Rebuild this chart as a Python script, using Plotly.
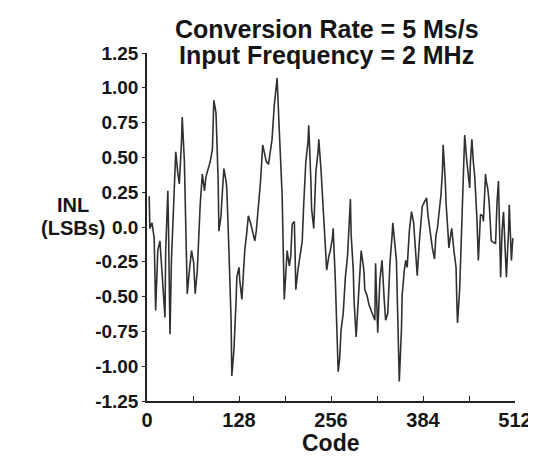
import plotly.graph_objects as go

# INL (LSBs) vs output code
codes = [3, 4, 7, 10, 12, 15, 18, 21, 23, 25, 26, 29, 30, 32, 34, 37, 40, 43, 45, 48,
         49, 52, 54, 56, 59, 62, 65, 67, 70, 71, 74, 77, 80, 82, 85, 88, 91, 92, 93, 96,
         99, 100, 103, 104, 107, 110, 111, 114, 117, 118, 121, 124, 125, 128, 129, 132, 133, 136, 139, 141,
         144, 147, 150, 152, 155, 158, 161, 163, 166, 169, 172, 174, 177, 180, 181, 184, 187, 188, 191, 194,
         195, 198, 200, 202, 205, 206, 207, 210, 213, 216, 218, 221, 224, 225, 228, 229, 232, 235, 238, 239,
         242, 244, 247, 249, 250, 253, 255, 258, 259, 262, 264, 266, 268, 270, 273, 276, 279, 280, 283, 284,
         287, 288, 291, 294, 297, 298, 301, 302, 303, 306, 309, 312, 314, 317, 318, 321, 324, 327, 330, 332,
         335, 338, 341, 342, 345, 347, 349, 351, 354, 355, 358, 360, 362, 365, 368, 371, 372, 375, 376, 379,
         382, 383, 386, 389, 391, 393, 395, 397, 400, 402, 404, 406, 409, 411, 412, 415, 416, 419, 420, 423,
         424, 427, 430, 431, 432, 435, 437, 439, 441, 442, 445, 448, 449, 450, 452, 454, 456, 459, 460, 461,
         464, 467, 468, 471, 472, 474, 476, 478, 479, 482, 485, 487, 489, 492, 494, 496, 498, 500, 503, 504,
         507, 508, 509]

inl = [0.22, -0.01, 0.03, -0.08, -0.60, -0.17, -0.10, -0.31, -0.52, -0.65, -0.17, 0.26, -0.03, -0.77, -0.24, 0.15, 0.54, 0.38, 0.31, 0.61,
       0.79, 0.47, -0.03, -0.48, -0.31, -0.17, -0.26, -0.48, -0.31, -0.19, 0.16, 0.38, 0.26, 0.36, 0.42, 0.47, 0.56, 0.75, 0.91, 0.82,
       0.33, -0.03, 0.08, 0.18, 0.42, 0.33, 0.28, -0.17, -0.67, -1.07, -0.88, -0.52, -0.36, -0.29, -0.38, -0.52, -0.42, -0.17, -0.03, 0.08,
       0.03, -0.04, -0.10, -0.03, 0.13, 0.33, 0.59, 0.54, 0.47, 0.45, 0.54, 0.63, 0.87, 1.00, 1.07, 0.70, 0.40, 0.23, -0.52, -0.24,
       -0.17, -0.28, -0.21, 0.02, 0.04, -0.17, -0.45, -0.31, -0.21, -0.10, 0.16, 0.47, 0.61, 0.73, 0.33, 0.13, -0.01, 0.40, 0.54, 0.63,
       0.42, 0.23, -0.03, -0.24, -0.31, -0.21, -0.17, -0.08, -0.01, -0.38, -0.81, -1.04, -0.95, -0.74, -0.62, -0.36, -0.21, -0.08, 0.20, -0.05,
       -0.31, -0.52, -0.79, -0.52, -0.31, -0.17, -0.28, -0.33, -0.45, -0.49, -0.56, -0.60, -0.63, -0.67, -0.26, -0.76, -0.38, -0.24, -0.52, -0.67,
       -0.62, -0.26, -0.06, 0.03, -0.13, -0.24, -0.67, -1.11, -0.74, -0.49, -0.31, -0.24, -0.29, -0.03, 0.11, 0.03, -0.05, -0.24, -0.35, -0.10,
       0.08, 0.15, 0.18, 0.21, 0.08, -0.01, -0.10, -0.15, -0.23, -0.06, -0.01, 0.08, 0.23, 0.40, 0.59, 0.33, 0.18, -0.06, -0.15, -0.04,
       -0.01, -0.17, -0.29, -0.52, -0.69, -0.45, -0.15, 0.23, 0.54, 0.66, 0.47, 0.33, 0.28, 0.47, 0.63, 0.47, 0.36, 0.06, -0.10, -0.24,
       0.09, 0.08, 0.04, 0.38, 0.33, 0.28, 0.18, 0.04, -0.10, -0.11, -0.12, 0.18, 0.33, -0.36, -0.03, 0.11, -0.10, -0.36, -0.03, 0.16,
       -0.24, -0.10, -0.08]

x_ticks = [0, 64, 128, 192, 256, 320, 384, 448, 512]
x_labels = ["0", "", "128", "", "256", "", "384", "", "512"]
y_ticks = [1.25, 1.0, 0.75, 0.5, 0.25, 0.0, -0.25, -0.5, -0.75, -1.0, -1.25]
y_labels = ["1.25", "1.00", "0.75", "0.50", "0.25", "0.0", "-0.25", "-0.50", "-0.75", "-1.00", "-1.25"]
title_lines = ["Conversion Rate = 5 Ms/s", "Input Frequency = 2 MHz"]

FONT = "Liberation Sans, Arial, sans-serif"
INK = "#151515"

# plot frame in pixels
L, R, T, B = 139, 512, 45, 393

fig = go.Figure()
fig.add_trace(go.Scatter(x=codes, y=inl, mode="lines",
                         line=dict(color="#303030", width=1.6),
                         showlegend=False, hoverinfo="skip"))

fig.update_layout(
    width=536, height=459,
    margin=dict(l=L, r=536 - R, t=T, b=459 - B),
    paper_bgcolor="white", plot_bgcolor="white",
    font=dict(family=FONT, size=20, color=INK, weight="bold"),
    xaxis=dict(range=[0, 512], tickvals=x_ticks, ticktext=x_labels,
               showline=True, linecolor="#222", linewidth=1.5,
               ticks="inside", ticklen=5, tickwidth=1.2, tickcolor="#222",
               showgrid=False, zeroline=False,
               tickfont=dict(family=FONT, size=20, color=INK, weight="bold")),
    yaxis=dict(range=[-1.25, 1.25], tickvals=y_ticks, ticktext=y_labels,
               showline=True, linecolor="#222", linewidth=1.5,
               ticks="outside", ticklen=3, tickwidth=1.2, tickcolor="#222",
               showgrid=False, zeroline=False,
               tickfont=dict(family=FONT, size=19, color=INK, weight="bold")),
)

def px_x(p):
    return (p - L) / (R - L)

def px_y(p):
    return (B - p) / (B - T)

fig.add_annotation(text=title_lines[0], xref="paper", yref="paper",
                   x=px_x(321), y=px_y(21), xanchor="center", yanchor="middle",
                   showarrow=False, font=dict(family=FONT, size=25, color=INK, weight="bold"))
fig.add_annotation(text=title_lines[1], xref="paper", yref="paper",
                   x=px_x(321), y=px_y(47), xanchor="center", yanchor="middle",
                   showarrow=False, font=dict(family=FONT, size=25, color=INK, weight="bold"))
fig.add_annotation(text="Code", xref="paper", yref="paper",
                   x=px_x(326), y=px_y(435), xanchor="center", yanchor="middle",
                   showarrow=False, font=dict(family=FONT, size=23, color=INK, weight="bold"))
fig.add_annotation(text="INL", xref="paper", yref="paper",
                   x=px_x(64), y=px_y(197), xanchor="center", yanchor="middle",
                   showarrow=False, font=dict(family=FONT, size=20, color=INK, weight="bold"))
fig.add_annotation(text="(LSBs)", xref="paper", yref="paper",
                   x=px_x(64), y=px_y(220), xanchor="center", yanchor="middle",
                   showarrow=False, font=dict(family=FONT, size=20, color=INK, weight="bold"))

fig.write_html("out.html")
